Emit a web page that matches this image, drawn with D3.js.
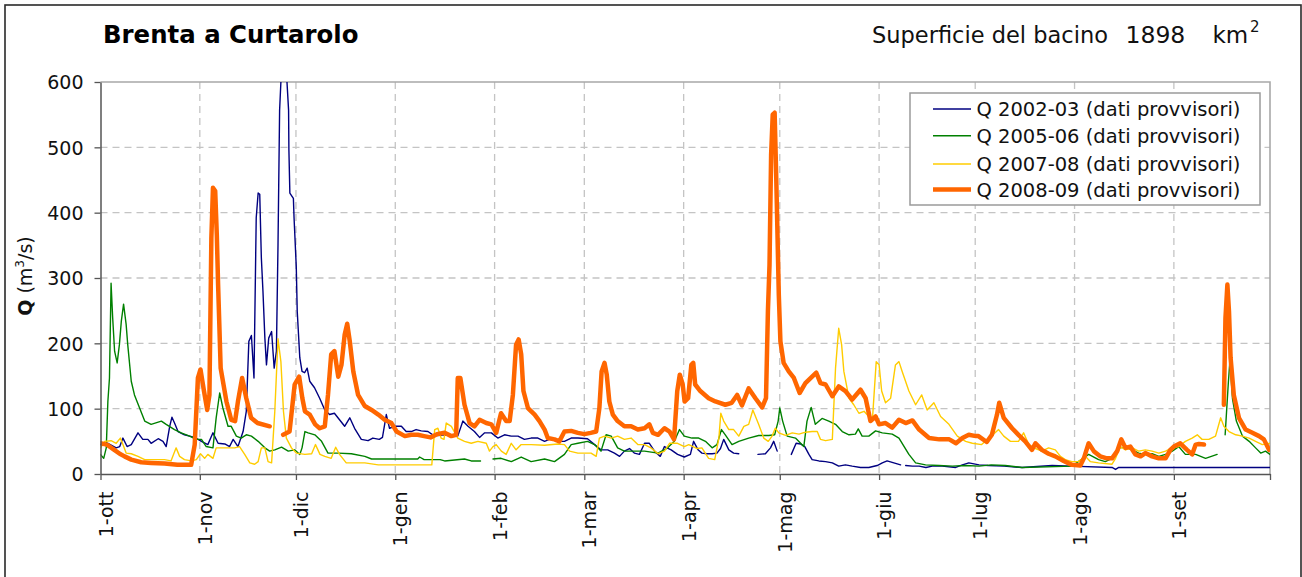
<!DOCTYPE html>
<html><head><meta charset="utf-8">
<script src="https://cdn.jsdelivr.net/npm/d3@7"></script>
<style>
html,body{margin:0;padding:0;background:#fff;}
svg{display:block;font-family:"DejaVu Sans",Verdana,sans-serif;}
</style></head>
<body>
<svg id="chart" width="1302" height="577"></svg>
<script>
// ---- data (day offset from 1 October, discharge m3/s) ----
const monthLabels = ["ott","nov","dic","gen","feb","mar","apr","mag","giu","lug","ago","set"];
const yTicks = [0,100,200,300,400,500,600];
const seriesNames = ["Q 2002-03 (dati provvisori)","Q 2005-06 (dati provvisori)","Q 2007-08 (dati provvisori)","Q 2008-09 (dati provvisori)"];

const q0203 = [[0,45],[2.3,47],[4.9,40],[6,42],[7,55],[8.3,42],[9.6,45],[11.7,63],[13.2,53],[14.8,53],[15.8,47],[18,54],[19.5,50],[20.5,42],[21.6,73],[22.3,87],[23.1,78],[24.2,65],[26.2,60],[27.8,58],[29.4,56],[31.5,50],[33.5,45],[35.1,63],[36.7,47],[38.8,46],[40.3,42],[41.4,53],[42.9,42],[44.5,65],[45.5,96],[46.3,203],[47.1,212],[47.9,147],[48.6,392],[49.2,430],[49.7,428],[50.2,331],[50.7,280],[51.3,208],[51.8,167],[52.5,208],[53.4,218],[54.2,162],[54.9,188],[55.4,351],[55.9,557],[56.3,600],[57.2,650],[58.2,600],[58.7,557],[58.8,496],[59.1,430],[60.2,422],[60.4,393],[61.1,317],[61.4,249],[62.2,178],[62.9,157],[63.7,155],[64.5,162],[65.3,142],[66.8,132],[68.4,116],[70,98],[71.5,91],[73,93],[74.6,83],[76.2,73],[77.8,86],[79.3,70],[81.4,53],[83.5,51],[85,55],[87,53],[88,56],[89.2,91],[90.2,70],[91.8,73],[93.9,73],[95.4,65],[97,65],[98.5,68],[100.1,66],[102.2,65],[103.7,60],[105.3,59],[107.4,60],[109.5,59],[111.5,58],[113.1,81],[114.7,73],[116.7,65],[118.3,56],[119.9,63],[122,63],[124,55],[126.1,60],[128.2,58],[130.3,58],[132.3,53],[134.4,55],[136.5,55],[138.6,50],[140.6,54],[142.7,50],[144.8,50],[146.9,55],[149,55],[152,54],[154.2,45],[156.2,37],[158.3,37],[160.4,32],[162,27],[163.5,35],[165.1,39],[166.6,32],[168.2,30],[169.8,47],[171.3,47],[172.9,35],[174.7,27],[176,42],[178.1,37],[180.1,30],[182.2,26],[184.1,30],[185.1,50],[186.5,37],[187.7,32],[189.3,31],[190.9,31],[192.4,32],[193.5,39],[194.5,53],[196.1,37],[197.6,32],[199.2,31],[200,null],[205.2,30],[207.5,31],[209.1,40],[210.1,50],[211.2,35],[212,null],[215.6,30],[217.1,47],[218.5,46],[219.8,42],[221.1,30],[222.1,22],[224.2,20],[226.3,19],[228.4,17],[230.4,12],[232.5,14],[234.6,12],[237.2,10],[239.8,10],[242.4,13],[244,17],[245.5,20],[247.6,17],[249.7,14],[250.5,null],[251.3,13],[253.4,12],[255.5,12],[257.6,10],[259.6,12],[262.7,12],[266.9,10],[269,14],[271,17],[274.2,14],[277,13],[282,12],[287.6,10],[297,13],[303,12],[315.7,10],[316.8,7],[317.8,10],[365,10]];

const q0506 = [[0,30],[1,24],[1.8,40],[2.3,111],[2.8,147],[3.3,292],[3.8,239],[4.4,188],[5.2,170],[5.9,198],[6.5,234],[7.2,260],[8,229],[8.5,198],[9.6,142],[10.6,121],[12.2,101],[13.8,81],[15.8,76],[19,81],[20.5,76],[23.1,68],[25.2,63],[27.8,58],[29.9,53],[31.5,53],[33,42],[35.1,40],[36.1,86],[37.2,124],[38.2,101],[39.8,73],[40.8,73],[42.4,58],[43.9,55],[45.5,60],[47.1,58],[49.2,50],[51.3,40],[52.8,35],[54.4,37],[56.5,41],[58.6,35],[60.6,37],[62.2,30],[62.9,40],[63.8,65],[64.8,63],[66.9,60],[69,50],[71,32],[74.2,32],[78.3,31],[82.5,27],[84.6,23],[88.7,23],[92.6,23],[99,23],[99.6,26],[101,22],[106,22],[107.4,20],[113.6,23],[115.7,20],[118.6,20],[120,null],[122.5,23],[125,24],[128.2,19],[131.3,26],[134.4,19],[138.6,23],[141.7,19],[144.8,30],[146.9,45],[149,47],[152,50],[154.2,45],[156.2,35],[157.8,60],[159.4,58],[161.4,40],[163.5,35],[166.6,35],[169.8,35],[174,32],[177,40],[179.1,50],[180.7,68],[182.2,58],[184.6,55],[186.7,55],[188.8,50],[190.9,40],[192.4,45],[193.8,68],[195,60],[197.1,45],[199.2,50],[202.3,55],[205.4,59],[208.6,59],[210.4,60],[211.5,81],[212,101],[212.9,81],[214.3,58],[216.9,55],[219.5,42],[220.5,81],[221.8,102],[223.1,76],[225.2,85],[227.3,81],[229.4,76],[231.5,65],[233.6,60],[235.6,61],[236.5,69],[237.7,58],[239.8,58],[241.9,66],[244,63],[247.1,61],[249.2,55],[252.3,30],[254.4,17],[257.5,14],[261.7,13],[265.9,12],[270,13],[274.2,12],[278,14],[282.4,13],[287.6,10],[303.2,12],[308.4,30],[311.5,22],[313.6,19],[315.7,24],[317.8,40],[319.9,41],[322,37],[324,32],[326.1,30],[328.2,31],[330.3,27],[332.4,30],[334.5,35],[336.5,42],[338.6,30],[341.8,30],[344.9,24],[348.5,30],[349.5,null],[351,60],[352,140],[352.5,174],[353.3,115],[354.5,81],[356.4,58],[358.5,50],[360.5,40],[362.1,32],[363.6,35],[365,30]];

const q0708 = [[0,40],[1.3,50],[3.3,51],[4.9,47],[6.2,55],[7,45],[8,32],[9.6,31],[11.7,27],[13.8,22],[20,22],[22,20],[23.6,40],[24.7,27],[26.2,22],[28.3,20],[29.9,22],[31.2,31],[32.5,24],[33.5,30],[35.1,24],[36.1,40],[38.8,40],[41.9,40],[43.4,42],[45,30],[46.6,17],[48.1,15],[49.2,19],[50.2,40],[51.3,40],[52.3,19],[53.4,17],[54.4,96],[55.4,207],[56.3,172],[57.1,96],[58,55],[59.6,40],[61.1,32],[63.8,30],[65.9,31],[67.1,45],[68.5,30],[70,27],[72,24],[73.4,41],[74.6,30],[76.7,17],[80.4,17],[82.5,17],[86.7,14],[92.6,14],[103.4,14],[104.3,68],[105.3,70],[106.3,55],[107.2,53],[107.9,78],[109.5,73],[111.5,55],[113.6,50],[115.7,47],[117.8,50],[120.4,47],[121.4,35],[122.5,42],[123.5,45],[125.1,35],[126.6,30],[128.2,47],[129.7,37],[131.3,45],[134.4,45],[138.6,44],[142.7,46],[144.8,45],[146.4,35],[149,32],[153.1,32],[154.7,27],[155.7,55],[157.3,58],[159.4,55],[161.4,58],[163.5,53],[165.6,55],[167.7,45],[169.8,45],[171.8,40],[174,31],[176,35],[177.6,47],[180.1,47],[182.2,42],[183.6,45],[186.2,39],[187.7,40],[189.8,24],[191.7,22],[193,55],[193.6,93],[194.5,81],[196.1,68],[197.6,68],[199.2,58],[200.8,73],[202.3,76],[203.6,98],[205.4,76],[207,55],[208.4,50],[209.6,58],[210.6,70],[211.7,63],[213.8,59],[215.9,63],[218,61],[220,64],[222.1,65],[223.7,65],[224.7,53],[226.3,51],[228.4,53],[229.4,162],[230.4,223],[231.3,198],[232,157],[233.6,116],[235.1,106],[236.7,93],[238.3,96],[240.9,82],[242.1,172],[243,167],[243.8,127],[245,109],[246.6,116],[248.1,167],[249.2,172],[250.2,157],[252.3,127],[254.4,106],[256.3,121],[258,98],[260.1,109],[262.2,88],[264.8,76],[267.4,58],[270,50],[272.1,47],[275,45],[278,58],[280.3,68],[281.9,58],[284,50],[286.5,50],[288.1,63],[289.7,45],[291.8,39],[293.8,35],[295.9,40],[298,37],[299.6,27],[301.1,22],[303.2,19],[305.3,19],[307.4,27],[308.9,19],[311.5,17],[315.7,15],[316.8,24],[318.3,42],[319.9,37],[322,40],[324,35],[326.1,37],[328.2,35],[330.3,32],[332.4,35],[334.4,40],[336.5,42],[338.6,50],[340.7,55],[342.3,60],[343.8,53],[345.9,53],[348,58],[349.6,86],[350.6,73],[352.2,65],[354.3,60],[356.4,58],[358.5,55],[360.5,50],[362.6,45],[365,47]];

const q0809 = [[0,47],[2,45],[4.3,37],[6,31],[7.5,27],[9.6,22],[12.7,18],[15.8,17],[20,16],[24,14],[28.3,14],[29.4,45],[30.4,147],[31.2,160],[32.3,127],[33.3,98],[34,121],[34.6,361],[35.1,438],[35.8,433],[36.3,366],[36.7,290],[37.5,162],[39.3,111],[40.8,83],[42,81],[42.9,111],[44.2,147],[45.5,116],[47,86],[49,78],[52.8,73],[54,null],[57,60],[59,65],[60.6,137],[62,149],[63,116],[63.8,96],[65.3,91],[67,76],[68.4,70],[70,73],[71,121],[72,183],[73,188],[74.2,149],[75.2,167],[76.2,213],[77,230],[77.8,203],[78.9,157],[80.4,121],[82.5,104],[84.6,98],[86.7,91],[88.7,83],[90.8,78],[92.4,65],[95,58],[97,60],[99,60],[101,58],[103,56],[105,61],[107.4,63],[109.5,58],[111,60],[111.5,147],[112.3,147],[113.6,106],[115.2,78],[116.7,73],[118.3,83],[120.4,78],[122,76],[123.5,63],[125,93],[126.6,81],[127.7,81],[128.7,121],[129.7,198],[130.5,206],[131.3,183],[132,127],[133.4,101],[135.5,91],[137,81],[138.6,68],[139.6,55],[141.7,53],[143.2,50],[144.8,65],[146.9,66],[149,63],[151,61],[153,63],[154.7,65],[155.7,101],[156.4,157],[157.3,170],[158,152],[158.8,111],[159.9,91],[161.4,81],[163.5,73],[165.6,73],[167.7,68],[169.8,70],[171.3,76],[172.4,63],[174,60],[176,70],[177.6,65],[179,53],[180,127],[180.8,152],[181.7,137],[182.3,111],[183.4,116],[184.4,167],[185,170],[185.6,137],[187.2,127],[189.8,116],[191.9,111],[195,106],[197,109],[198.7,121],[200.2,105],[202.3,131],[204.4,116],[206.5,102],[207.7,116],[208.3,249],[208.8,320],[209.3,489],[209.8,550],[210.4,553],[210.9,453],[211.7,274],[212.2,203],[213.2,170],[214.8,157],[216.4,147],[218.2,124],[220,139],[222.1,149],[223.4,155],[224.7,139],[226.3,137],[228.4,119],[230.4,134],[232.5,127],[234.6,114],[237.2,129],[238.8,116],[240.3,81],[241.9,88],[243,76],[245,78],[247.1,71],[249.2,83],[251.3,78],[253.4,82],[255.5,68],[258.6,55],[261.8,53],[264.9,53],[267,47],[269,55],[271,60],[273.2,58],[274,58],[276.6,49],[278.2,60],[279.8,91],[280.5,109],[281.9,86],[284.5,70],[286.5,60],[288.6,50],[290.7,37],[291.8,47],[293.8,37],[295.9,31],[298,27],[300.6,20],[303.2,14],[305.8,13],[306.9,24],[308.4,47],[310,35],[312,27],[314.1,24],[315.7,24],[317.3,35],[318.6,53],[319.9,40],[321.4,42],[323,30],[324.6,27],[326.1,32],[328.2,27],[330.3,24],[332.4,24],[333.9,37],[335,42],[337,47],[339.1,37],[340.7,30],[341.8,45],[342.8,46],[344.4,45],[346,null],[350.6,106],[351.1,239],[351.7,290],[352.2,249],[352.7,178],[353.7,121],[355.3,86],[357.4,68],[359.5,63],[361.6,58],[363.1,53],[364.7,37]];

const allSeries = [q0203, q0506, q0708, q0809];
const colors = ["#000080","#008000","#FFCC00","#FF6600"];
const widths = [1.4,1.4,1.4,4.5];

// ---- drawing ----
const svg = d3.select("#chart");
const start = Date.UTC(2008,9,1), end = Date.UTC(2009,9,1);
const toDate = d => new Date(start + d*864e5);
const x = d3.scaleUtc().domain([new Date(start), new Date(end)]).range([100.5,1270]);
const y = d3.scaleLinear().domain([0,600]).range([474,82]);
const months = d3.utcMonth.range(new Date(start), new Date(end + 1));

svg.append("rect").attr("x",5).attr("y",5).attr("width",1296).attr("height",590)
  .attr("fill","#fff").attr("stroke","#2a2a2a").attr("stroke-width",1.6);

// grid
const grid = svg.append("g");
grid.selectAll("line.h").data(yTicks.filter(v=>v>0 && v<600)).join("line")
  .attr("x1",x.range()[0]).attr("x2",x.range()[1]).attr("y1",d=>y(d)).attr("y2",d=>y(d))
  .attr("stroke","#c4c4c4").attr("stroke-width",1.3).attr("stroke-dasharray","7,5");
grid.selectAll("line.v").data(months.slice(1,-1)).join("line")
  .attr("x1",d=>x(d)).attr("x2",d=>x(d)).attr("y1",y(600)).attr("y2",y(0))
  .attr("stroke","#c4c4c4").attr("stroke-width",1.3).attr("stroke-dasharray","7,5");
// top & right frame
svg.append("path").attr("d",`M${x.range()[0]},${y(600)}H${x.range()[1]}V${y(0)}`)
  .attr("fill","none").attr("stroke","#a8a8a8").attr("stroke-width",1.6);

// clip
svg.append("clipPath").attr("id","clip").append("rect")
  .attr("x",x.range()[0]).attr("y",y(600)).attr("width",x.range()[1]-x.range()[0]).attr("height",y(0)-y(600));

const line = d3.line().defined(d=>d[1]!==null).x(d=>x(toDate(d[0]))).y(d=>y(d[1]));
const lines = svg.append("g").attr("clip-path","url(#clip)");
allSeries.forEach((s,i)=>{
  lines.append("path").datum(s).attr("d",line).attr("fill","none")
    .attr("stroke",colors[i]).attr("stroke-width",widths[i]).attr("stroke-linejoin","round").attr("stroke-linecap","round");
});

// axes
const fmt = d => { const m = d.getUTCMonth(); const idx = (m+3)%12; return d.getTime()===end ? "" : "1-"+monthLabels[idx]; };
const xAxis = svg.append("g").attr("transform",`translate(0,${y(0)})`)
  .call(d3.axisBottom(x).tickValues(months).tickFormat(fmt).tickSize(6).tickSizeOuter(0));
xAxis.select(".domain").attr("stroke","#555").attr("stroke-width",1.5);
xAxis.selectAll(".tick line").attr("stroke","#555").attr("stroke-width",1.3);
xAxis.selectAll(".tick text").attr("transform","rotate(-90)").attr("text-anchor","end")
  .attr("x",-17.5).attr("y",11.5).attr("dy",0).attr("font-size",19).attr("font-family","DejaVu Sans").attr("fill","#111");

const yAxis = svg.append("g").attr("transform",`translate(${x.range()[0]},0)`)
  .call(d3.axisLeft(y).tickValues(yTicks).tickSize(6).tickSizeOuter(0).tickPadding(11));
yAxis.select(".domain").attr("stroke","#555").attr("stroke-width",1.5);
yAxis.selectAll(".tick line").attr("stroke","#555").attr("stroke-width",1.3);
yAxis.selectAll(".tick text").attr("font-size",19).attr("font-family","DejaVu Sans").attr("fill","#111").attr("dy","0.36em");

// y label
const yl = svg.append("text").attr("transform","translate(32,276) rotate(-90)")
  .attr("text-anchor","middle").attr("font-size",19).attr("fill","#111");
yl.append("tspan").attr("font-weight","bold").text("Q");
yl.append("tspan").text(" (m");
yl.append("tspan").attr("font-size",12).attr("dy",-8).text("3");
yl.append("tspan").attr("dy",8).text("/s)");

// titles
svg.append("text").attr("x",103).attr("y",43).attr("font-size",24.4).attr("font-weight","bold").attr("fill","#000").text("Brenta a Curtarolo");
svg.append("text").attr("x",872).attr("y",43).attr("font-size",22.5).attr("fill","#111").text("Superficie del bacino");
svg.append("text").attr("x",1125.5).attr("y",43).attr("font-size",23.5).attr("fill","#111").text("1898");
svg.append("text").attr("x",1212.5).attr("y",43).attr("font-size",23).attr("fill","#111").text("km");
svg.append("text").attr("x",1250).attr("y",31.5).attr("font-size",15).attr("fill","#111").text("2");

// legend
const lg = svg.append("g");
lg.append("rect").attr("x",910).attr("y",93).attr("width",350).attr("height",112)
  .attr("fill","#fff").attr("stroke","#9a9a9a").attr("stroke-width",1.5);
const rowY = [109,135.7,164,189.5];
seriesNames.forEach((n,i)=>{
  lg.append("line").attr("x1",933).attr("x2",971).attr("y1",rowY[i]).attr("y2",rowY[i])
    .attr("stroke",colors[i]).attr("stroke-width",widths[i]);
  lg.append("text").attr("x",976.5).attr("y",rowY[i]).attr("dy","0.36em")
    .attr("font-size",19.5).attr("fill","#111").text(n);
});
</script>
</body></html>
